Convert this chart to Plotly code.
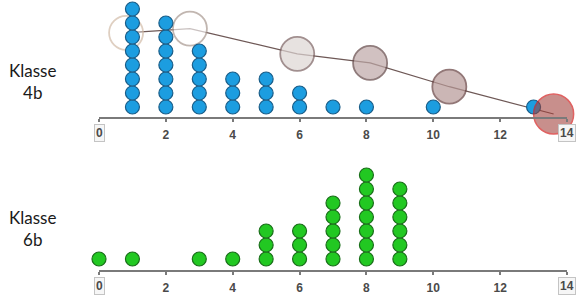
import plotly.graph_objects as go

# ---- data ----
ticks = [0, 2, 4, 6, 8, 10, 12, 14]
ticktext = ["", "2", "4", "6", "8", "10", "12", ""]

k4b_values = [1, 2, 3, 4, 5, 6, 7, 8, 10, 13]
k4b_counts = [8, 7, 5, 3, 3, 2, 1, 1, 1, 1]

k6b_values = [0, 1, 3, 4, 5, 6, 7, 8, 9]
k6b_counts = [1, 1, 1, 1, 3, 3, 5, 7, 6]

bubble_x = [0.81, 2.72, 5.93, 8.11, 10.48, 13.6]
bubble_y = [6.3, 6.6, 4.8, 4.15, 2.45, 0.5]
bubble_size = [34, 34, 34, 34, 34, 40]
bubble_fill = ["rgba(255,255,255,0.4)", "rgba(255,255,255,0.9)", "rgba(222,214,212,1)",
               "rgba(190,168,167,1)", "rgba(182,152,150,1)", "rgba(160,62,56,0.82)"]
bubble_line = ["#d2bca8", "#a89890", "#7a6060", "#604444", "#643e3e", "#d42020"]


def stack(values, counts):
    xs, ys = [], []
    for v, c in zip(values, counts):
        for k in range(1, c + 1):
            xs.append(v)
            ys.append(k)
    return xs, ys


fig = go.Figure()

# connecting line of the bubbles
fig.add_trace(go.Scatter(x=bubble_x, y=bubble_y, mode="lines",
                         line=dict(color="#6e5856", width=1.2),
                         xaxis="x", yaxis="y", hoverinfo="skip", showlegend=False))
# first bubbles (beneath dots)
fig.add_trace(go.Scatter(x=bubble_x[:-1], y=bubble_y[:-1], mode="markers",
                         marker=dict(size=bubble_size[:-1], color=bubble_fill[:-1],
                                     line=dict(color=bubble_line[:-1], width=1.8)),
                         xaxis="x", yaxis="y", cliponaxis=False, showlegend=False))

x4, y4 = stack(k4b_values, k4b_counts)
fig.add_trace(go.Scatter(x=x4, y=y4, mode="markers",
                         marker=dict(size=14, color="#1c9de0", line=dict(color="#1a5d88", width=1.2)),
                         xaxis="x", yaxis="y", cliponaxis=False, showlegend=False))

# last bubble on top
fig.add_trace(go.Scatter(x=bubble_x[-1:], y=bubble_y[-1:], mode="markers",
                         marker=dict(size=bubble_size[-1:], color=bubble_fill[-1:],
                                     line=dict(color=bubble_line[-1:], width=1.5)),
                         xaxis="x", yaxis="y", cliponaxis=False, showlegend=False))

x6, y6 = stack(k6b_values, k6b_counts)
fig.add_trace(go.Scatter(x=x6, y=y6, mode="markers",
                         marker=dict(size=14, color="#22c822", line=dict(color="#1a6e1a", width=1.2)),
                         xaxis="x2", yaxis="y2", cliponaxis=False, showlegend=False))

W, H = 584, 298
xdom = [99 / W, 567 / W]
tickfont = dict(family="Liberation Sans", size=12, color="#4a4a4a", weight="bold")
axis_common = dict(range=[0, 14], tickvals=ticks, ticktext=ticktext, showgrid=False,
                   zeroline=False, showline=True, linecolor="#7a7a7a", linewidth=2,
                   ticks="outside", ticklen=3, tickwidth=1.5, tickcolor="#7a7a7a",
                   tickfont=tickfont, ticklabelstandoff=3,
                   domain=xdom, fixedrange=True)

fig.update_layout(
    width=W, height=H, margin=dict(l=0, r=0, t=0, b=0),
    paper_bgcolor="white", plot_bgcolor="white",
    xaxis=dict(anchor="y", **axis_common),
    xaxis2=dict(anchor="y2", **axis_common),
    yaxis=dict(domain=[1 - 117 / H, 1], range=[0.286, 8.643], visible=False, fixedrange=True),
    yaxis2=dict(domain=[1 - 270 / H, 1 - 150 / H], range=[0.214, 8.786], visible=False, fixedrange=True),
)

# boxed end labels
for (xv, yp) in [(0, 133), (14, 133), (0, 286), (14, 286)]:
    fig.add_annotation(x=xdom[0] + (xdom[1] - xdom[0]) * xv / 14, y=1 - yp / H,
                       xref="paper", yref="paper", text=str(xv), showarrow=False,
                       xanchor="center", yanchor="middle",
                       font=tickfont,
                       bordercolor="#c4c4c4", borderwidth=1, borderpad=1, bgcolor="#f6f6f6")

for label, yp in [("Klasse<br>4b", 81), ("Klasse<br>6b", 229)]:
    fig.add_annotation(x=32 / W, y=1 - yp / H, xref="paper", yref="paper", text=label,
                       showarrow=False, align="center", xanchor="center", yanchor="middle",
                       font=dict(family="Lato", size=17, color="#1a1a1a"))

fig.write_html("out.html", config={"displayModeBar": False},
               post_script="document.body.style.margin='0';document.body.style.padding='0';")
